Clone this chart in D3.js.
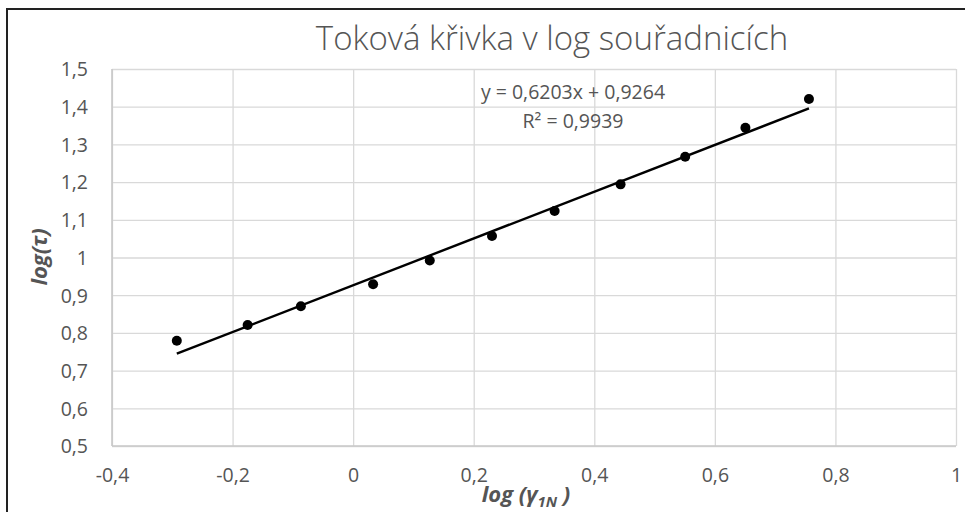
<!DOCTYPE html>
<html><head><meta charset="utf-8">
<script src="https://cdn.jsdelivr.net/npm/d3@7"></script>
<style>body{margin:0;background:#fff}svg{display:block}</style>
</head><body>
<svg id="c" width="965" height="512"></svg>
<script>
const titleText = "Toková křivka v log souřadnicích";
const xValues = [-0.2925, -0.175, -0.0867, 0.0331, 0.1271, 0.2303, 0.3342, 0.4436, 0.5508, 0.6507, 0.7561];
const yValues = [0.779, 0.821, 0.8706, 0.929, 0.992, 1.057, 1.1233, 1.194, 1.2674, 1.3443, 1.4204];
const xTicks = [-0.4, -0.2, 0, 0.2, 0.4, 0.6, 0.8, 1];
const yTicks = [0.5, 0.6, 0.7, 0.8, 0.9, 1, 1.1, 1.2, 1.3, 1.4, 1.5];
const trendSlope = 0.6203;
const trendIntercept = 0.9264;
const eqLabel = "y = 0,6203x + 0,9264";
const r2Label = "R² = 0,9939";

const svg = d3.select("#c");
const L = 112, R = 956, T = 69, B = 446;
const x = d3.scaleLinear().domain([-0.4, 1]).range([L, R]);
const y = d3.scaleLinear().domain([0.5, 1.5]).range([B, T]);
const fmt = v => String(+v.toFixed(1)).replace(".", ",");
const txt = "#555555";
const font = "Open Sans, sans-serif";

// outer border
svg.append("rect").attr("x", 7).attr("y", 9).attr("width", 980).attr("height", 520)
  .attr("fill", "none").attr("stroke", "#222").attr("stroke-width", 2);

// gridlines
const gx = svg.append("g").attr("transform", `translate(0,${B})`)
  .call(d3.axisBottom(x).tickValues(xTicks).tickSize(-(B - T)).tickFormat(fmt));
gx.select(".domain").remove();
gx.selectAll(".tick line").attr("stroke", "#d9d9d9").attr("stroke-width", 1.3);
gx.selectAll(".tick text").attr("fill", txt).attr("font-family", font).attr("font-size", 19.5)
  .attr("y", 29).attr("dy", "0.35em");

const gy = svg.append("g").attr("transform", `translate(${L},0)`)
  .call(d3.axisLeft(y).tickValues(yTicks).tickSize(-(R - L)).tickFormat(fmt));
gy.select(".domain").remove();
gy.selectAll(".tick line").attr("stroke", "#d9d9d9").attr("stroke-width", 1.3);
gy.selectAll(".tick text").attr("fill", txt).attr("font-family", font).attr("font-size", 19.5)
  .attr("x", -24).attr("dy", "0.35em");

// axis lines left & bottom slightly darker
svg.append("line").attr("x1", L).attr("x2", R).attr("y1", B).attr("y2", B).attr("stroke", "#c8c8c8").attr("stroke-width", 1.6);
svg.append("line").attr("x1", L).attr("x2", L).attr("y1", T).attr("y2", B).attr("stroke", "#c8c8c8").attr("stroke-width", 1.6);

// trendline
const x0 = d3.min(xValues), x1 = d3.max(xValues);
svg.append("line")
  .attr("x1", x(x0)).attr("y1", y(trendSlope * x0 + trendIntercept))
  .attr("x2", x(x1)).attr("y2", y(trendSlope * x1 + trendIntercept))
  .attr("stroke", "#000").attr("stroke-width", 2.4);

// points
svg.append("g").selectAll("circle").data(xValues).join("circle")
  .attr("cx", d => x(d)).attr("cy", (d, i) => y(yValues[i])).attr("r", 5).attr("fill", "#000");

// equation
svg.append("text").attr("x", 573).attr("y", 99).attr("text-anchor", "middle")
  .attr("fill", txt).attr("font-family", font).attr("font-size", 19.5).text(eqLabel);
svg.append("text").attr("x", 573).attr("y", 128).attr("text-anchor", "middle")
  .attr("fill", txt).attr("font-family", font).attr("font-size", 19.5).text(r2Label);

// title
svg.append("text").attr("x", 552).attr("y", 50).attr("text-anchor", "middle")
  .attr("fill", txt).attr("font-family", font).attr("font-weight", 300).attr("font-size", 33).text(titleText);

// y axis title
svg.append("text").attr("transform", "translate(47,257) rotate(-90)").attr("text-anchor", "middle")
  .attr("fill", txt).attr("font-family", font).attr("font-weight", "bold").attr("font-style", "italic")
  .attr("font-size", 22).text("log(τ)");

// x axis title
const xt = svg.append("text").attr("x", 526).attr("y", 502).attr("text-anchor", "middle")
  .attr("fill", txt).attr("font-family", font).attr("font-weight", "bold").attr("font-style", "italic")
  .attr("font-size", 22);
xt.append("tspan").text("log (γ");
xt.append("tspan").attr("font-size", 15).attr("dy", 5).text("1N");
xt.append("tspan").attr("dy", -5).text(" )");
</script>
</body></html>
